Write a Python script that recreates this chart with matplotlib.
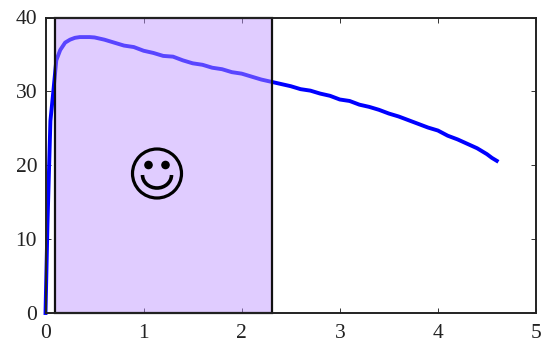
import matplotlib
matplotlib.use("Agg")
import matplotlib.pyplot as plt
from matplotlib.patches import Rectangle, Circle, Arc

strain = [0.0, 0.02, 0.05, 0.08, 0.11, 0.15, 0.2, 0.25, 0.3, 0.35, 0.4, 0.45, 0.5, 0.6, 0.7, 0.8, 0.9, 1.0,
          1.1, 1.2, 1.3, 1.4, 1.5, 1.6, 1.7, 1.8, 1.9, 2.0, 2.1, 2.2, 2.3, 2.4, 2.5, 2.6, 2.7, 2.8,
          2.9, 3.0, 3.1, 3.2, 3.3, 3.4, 3.5, 3.6, 3.7, 3.8, 3.9, 4.0, 4.1, 4.2, 4.3, 4.4, 4.5, 4.55, 4.6]
stress = [0.0, 12.0, 26.0, 30.0, 34.2, 35.6, 36.6, 37.0, 37.25, 37.35, 37.35, 37.35, 37.3, 37.0, 36.6, 36.2,
          36.0, 35.5, 35.2, 34.8, 34.7, 34.2, 33.8, 33.6, 33.2, 33.0, 32.6, 32.4, 32.0, 31.6, 31.3, 31.0,
          30.7, 30.3, 30.1, 29.7, 29.4, 28.9, 28.7, 28.2, 27.9, 27.5, 27.0, 26.6, 26.1, 25.6, 25.1, 24.7,
          24.0, 23.5, 22.9, 22.3, 21.5, 21.0, 20.6]
xticks = [0, 1, 2, 3, 4, 5]
yticks = [0, 10, 20, 30, 40]
window = (0.1, 2.31)

plt.rcParams['font.family'] = ['Liberation Serif']
W, H = 544, 344
fig = plt.figure(figsize=(W / 100, H / 100), dpi=100)
L, R, T, B = 45.5, 536, 17.5, 313
ax = fig.add_axes([L / W, 1 - B / H, (R - L) / W, (B - T) / H])
ax.plot(strain, stress, color='#0000ff', lw=2.8, solid_joinstyle='round', zorder=2, clip_on=False)
ax.set_xlim(0, 5)
ax.set_ylim(0, 40)
ax.set_xticks(xticks)
ax.set_yticks(yticks)
ax.tick_params(direction='in', top=True, right=True, length=3.5, width=0.7, color='#333333',
               labelsize=15.5, labelcolor='#222222')
ax.tick_params(axis='x', pad=8)
ax.tick_params(axis='y', pad=6)
for s in ax.spines.values():
    s.set_linewidth(1.4)
    s.set_color('#222222')
    s.set_zorder(5)

ax.add_patch(Rectangle((window[0], 0), window[1] - window[0], 40, facecolor=(0.75, 0.58, 1.0, 0.47),
                       edgecolor='none', zorder=3, clip_on=False))
ax.add_patch(Rectangle((window[0], 0), window[1] - window[0], 40, facecolor='none',
                       edgecolor='#111111', lw=1.6, zorder=4, clip_on=False))

# Smiley, drawn in pixel coordinates of the figure
face = fig.add_axes([0, 0, 1, 1], facecolor='none')
face.set_xlim(0, W)
face.set_ylim(H, 0)
face.axis('off')
cx, cy = 157, 173.5
face.add_patch(Circle((cx, cy), 24.5, fill=False, edgecolor='black', lw=2.3))
face.add_patch(Circle((cx - 8.5, cy - 8.5), 4.3, color='black', lw=0))
face.add_patch(Circle((cx + 8.5, cy - 8.5), 4.3, color='black', lw=0))
face.add_patch(Arc((cx, cy + 1.5), 29, 26, theta1=0, theta2=180, edgecolor='black', lw=2.6))

fig.savefig('out.png', dpi=100)
